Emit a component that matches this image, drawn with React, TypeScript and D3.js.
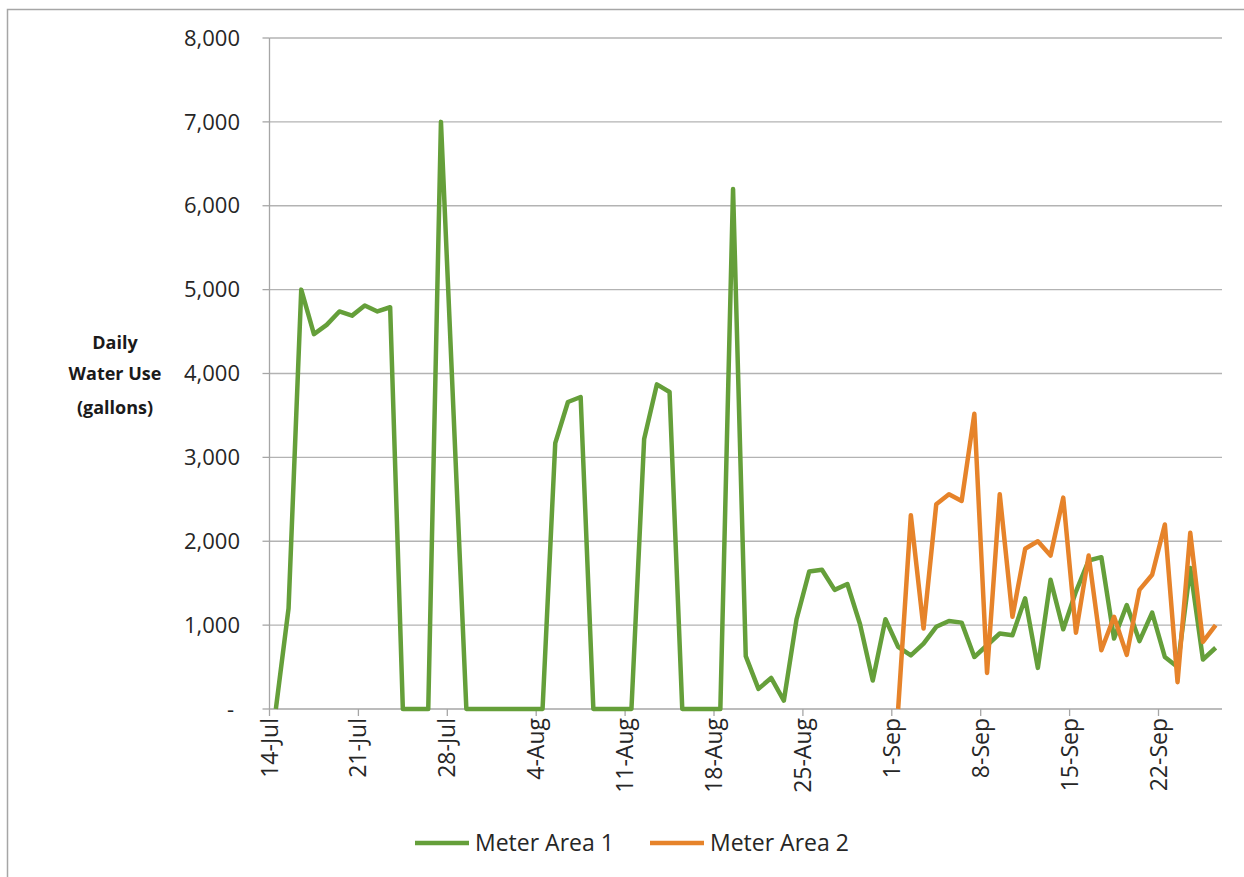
import React from 'react';
import * as d3 from 'd3';

// Daily water use (gallons), one value per day from 14-Jul to 26-Sep
const startDate = '14-Jul-2014';
const meterArea1 = [
  0, 1200, 5000, 4470, 4580, 4740, 4690, 4810, 4740, 4790,
  0, 0, 0, 7000, 3500, 0, 0, 0, 0, 0,
  0, 0, 3170, 3660, 3720, 0, 0, 0, 0, 3220,
  3870, 3780, 0, 0, 0, 0, 6200, 630, 240, 370,
  100, 1070, 1640, 1660, 1420, 1490, 1010, 340, 1070, 740,
  640, 780, 980, 1050, 1030, 620, 760, 900, 880, 1320,
  490, 1540, 950, 1400, 1770, 1810, 840, 1240, 810, 1150,
  620, 500, 1680, 590, 730,
];
// Meter Area 2 starts reporting on 1-Sep
const meterArea2Start = '1-Sep-2014';
const meterArea2 = [
  0, 2310, 960, 2440, 2560, 2480, 3520, 430, 2560, 1100,
  1910, 2000, 1830, 2520, 910, 1830, 700, 1100, 645, 1420,
  1600, 2200, 320, 2100, 800, 1000,
];
const xTickLabels = ['14-Jul', '21-Jul', '28-Jul', '4-Aug', '11-Aug', '18-Aug', '25-Aug', '1-Sep', '8-Sep', '15-Sep', '22-Sep'];
const yTicks = [0, 1000, 2000, 3000, 4000, 5000, 6000, 7000, 8000];
const seriesNames = ['Meter Area 1', 'Meter Area 2'];
const seriesColors = ['#659f3a', '#e6832a'];

const W = 1244;
const H = 877;
const M = { left: 269.5, right: 1222, top: 38, bottom: 709 };
const FONT = "'Open Sans', 'Noto Sans', sans-serif";

const parse = d3.utcParse('%d-%b-%Y');

type Pt = { date: Date; value: number };

const App: React.FC = () => {
  const start = parse(startDate) as Date;
  const s2 = parse(meterArea2Start) as Date;

  const series1: Pt[] = meterArea1.map((v, i) => ({ date: d3.utcDay.offset(start, i), value: v }));
  const series2: Pt[] = meterArea2.map((v, i) => ({ date: d3.utcDay.offset(s2, i), value: v }));

  // date axis: ticks at day boundaries, points in the middle of each day
  const end = d3.utcDay.offset(start, meterArea1.length);
  const x = d3.scaleUtc().domain([start, end]).range([M.left, M.right]);
  const y = d3.scaleLinear().domain([0, 8000]).range([M.bottom, M.top]);

  const line = d3
    .line<Pt>()
    .x((d) => x(d3.utcHour.offset(d.date, 12)))
    .y((d) => y(d.value));

  const fmt = d3.format(',');
  const tickDates = xTickLabels.map((l) => parse(l + '-2014') as Date);

  return (
    <svg width={W} height={H} style={{ position: 'absolute', left: 0, top: 0, background: '#fff' }}>
      <rect x={7.5} y={9.5} width={W + 20} height={H + 20} fill="#fff" stroke="#a6a6a6" strokeWidth={1.5} />

      {/* gridlines + y ticks */}
      {yTicks.map((t) => (
        <g key={t}>
          {t > 0 && (
            <line x1={M.left} x2={M.right} y1={y(t)} y2={y(t)} stroke="#b3b3b3" strokeWidth={1.3} />
          )}
          <line x1={M.left - 7} x2={M.left} y1={y(t)} y2={y(t)} stroke="#a6a6a6" strokeWidth={1.3} />
          <text
            x={t === 0 ? 234 : 240}
            y={y(t)}
            dy="0.35em"
            textAnchor="end"
            fontFamily={FONT}
            fontSize={22}
            fill="#262626"
          >
            {t === 0 ? '-' : fmt(t)}
          </text>
        </g>
      ))}

      {/* axes */}
      <line x1={M.left} x2={M.left} y1={M.top} y2={M.bottom} stroke="#a6a6a6" strokeWidth={1.3} />
      <line x1={M.left} x2={M.right} y1={M.bottom} y2={M.bottom} stroke="#a6a6a6" strokeWidth={1.3} />

      {/* x ticks */}
      {tickDates.map((d, i) => (
        <g key={xTickLabels[i]}>
          <line x1={x(d)} x2={x(d)} y1={M.bottom} y2={M.bottom + 7} stroke="#a6a6a6" strokeWidth={1.3} />
          <text
            transform={`translate(${x(d)},${M.bottom + 9}) rotate(-90)`}
            dy="0.35em"
            textAnchor="end"
            fontFamily={FONT}
            fontSize={23}
            fill="#262626"
          >
            {xTickLabels[i]}
          </text>
        </g>
      ))}

      {/* series */}
      <path d={line(series1) || ''} fill="none" stroke={seriesColors[0]} strokeWidth={4.5} strokeLinejoin="round" />
      <path d={line(series2) || ''} fill="none" stroke={seriesColors[1]} strokeWidth={4.5} strokeLinejoin="round" />

      {/* y title */}
      <text textAnchor="middle" fontFamily={FONT} fontSize={18} fontWeight="bold" fill="#1a1a1a">
        <tspan x={115} y={349}>Daily</tspan>
        <tspan x={115} y={380}>Water Use</tspan>
        <tspan x={115} y={414}>(gallons)</tspan>
      </text>

      {/* legend */}
      {seriesNames.map((n, i) => {
        const lx = i === 0 ? 415 : 650;
        return (
          <g key={n}>
            <line x1={lx} x2={lx + 54} y1={843} y2={843} stroke={seriesColors[i]} strokeWidth={4.5} />
            <text x={lx + 60} y={843} dy="0.35em" fontFamily={FONT} fontSize={23} fill="#262626">
              {n}
            </text>
          </g>
        );
      })}
    </svg>
  );
};

export default App;
